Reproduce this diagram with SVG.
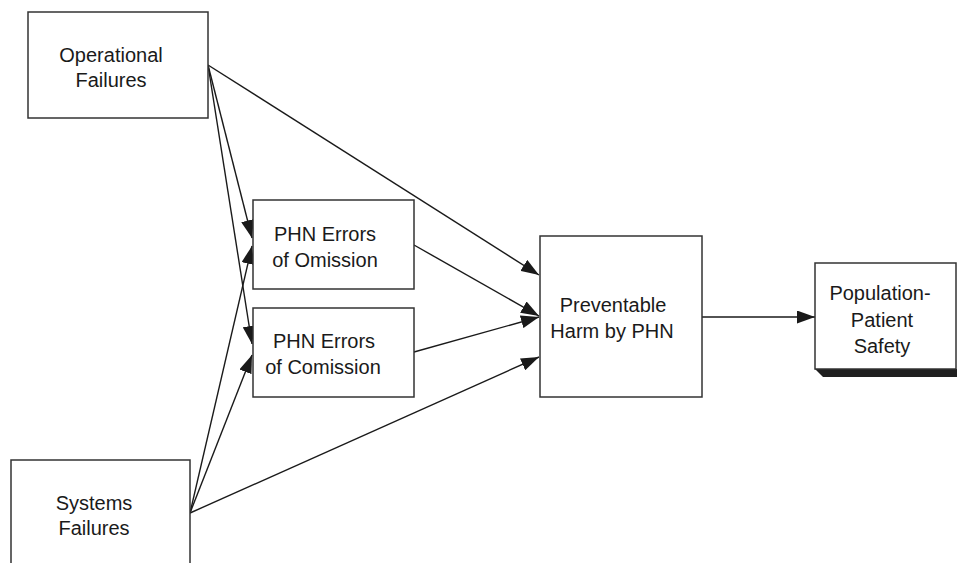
<svg xmlns="http://www.w3.org/2000/svg" width="957" height="563" viewBox="0 0 957 563">
  <style>
    .box { fill: #ffffff; stroke: #333333; stroke-width: 1.5; }
    .lbl { font-family: "Liberation Sans", Arial, sans-serif; font-size: 20px; fill: #1a1a1a; text-anchor: middle; }
    .edge { fill: none; stroke: #1a1a1a; stroke-width: 1.4; marker-end: url(#arrow); }
  </style>
  <defs>
    <marker id="arrow" markerUnits="userSpaceOnUse" markerWidth="18" markerHeight="13" refX="18" refY="6.5" orient="auto">
      <path d="M0,0 L18,6.5 L0,13 Z" fill="#1a1a1a"/>
    </marker>
  </defs>
  <rect width="957" height="563" fill="#ffffff"/>

  <g id="connectors">
    <line class="edge" x1="208" y1="65" x2="539" y2="275"/>
    <line class="edge" x1="208" y1="65" x2="252" y2="238"/>
    <line class="edge" x1="208" y1="65" x2="252" y2="344"/>
    <line class="edge" x1="190" y1="513" x2="252" y2="246"/>
    <line class="edge" x1="190" y1="513" x2="252" y2="355"/>
    <line class="edge" x1="190" y1="513" x2="539" y2="357"/>
    <line class="edge" x1="414" y1="245" x2="539" y2="316"/>
    <line class="edge" x1="414" y1="352" x2="539" y2="317"/>
    <line class="edge" x1="700" y1="317" x2="815" y2="317"/>
  </g>

  <g id="operational-failures">
    <rect class="box" x="28" y="12" width="180" height="106"/>
    <text class="lbl" x="111" y="62">Operational</text>
    <text class="lbl" x="111" y="87">Failures</text>
  </g>

  <g id="systems-failures">
    <rect class="box" x="11" y="460" width="179" height="120"/>
    <text class="lbl" x="94" y="510">Systems</text>
    <text class="lbl" x="94" y="535">Failures</text>
  </g>

  <g id="errors-omission">
    <rect class="box" x="253" y="200" width="161" height="89"/>
    <text class="lbl" x="325" y="241">PHN Errors</text>
    <text class="lbl" x="325" y="267">of Omission</text>
  </g>

  <g id="errors-comission">
    <rect class="box" x="253" y="308" width="161" height="89"/>
    <text class="lbl" x="324" y="348">PHN Errors</text>
    <text class="lbl" x="323" y="374">of Comission</text>
  </g>

  <g id="preventable-harm">
    <rect class="box" x="540" y="236" width="162" height="161"/>
    <text class="lbl" x="613" y="312">Preventable</text>
    <text class="lbl" x="612" y="338">Harm by PHN</text>
  </g>

  <g id="population-safety">
    <polygon points="815,369 960,369 960,377 823,377" fill="#1f1f1f"/>
    <rect class="box" x="815" y="263" width="141" height="106"/>
    <text class="lbl" x="880" y="300">Population-</text>
    <text class="lbl" x="882" y="327">Patient</text>
    <text class="lbl" x="882" y="353">Safety</text>
  </g>
</svg>
